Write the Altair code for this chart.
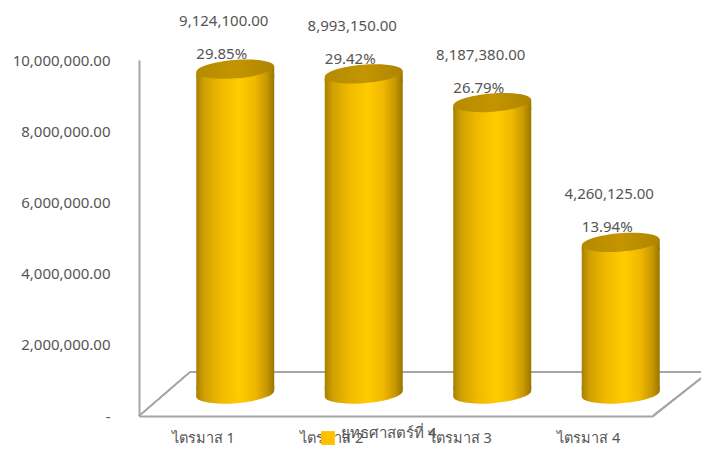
import altair as alt
import pandas as pd

quarters = ["ไตรมาส 1", "ไตรมาส 2", "ไตรมาส 3", "ไตรมาส 4"]
amounts = [9124100, 8993150, 8187380, 4260125]
shares = ["29.85%", "29.42%", "26.79%", "13.94%"]
series = ["ยุทธศาสตร์ที่ 4"] * 4
y_ticks = [0, 2000000, 4000000, 6000000, 8000000, 10000000]

FONT = "Noto Sans"
TXT = "#555555"
GRID = "#a6a6a6"

df = pd.DataFrame({"q": quarters, "v": amounts, "s": shares, "series": series})
df["label"] = df["v"].map(lambda v: f"{v:,.2f}")


def grad(stops):
    return alt.LinearGradient(
        gradient="linear", x1=0, x2=1, y1=0, y2=0,
        stops=[alt.GradientStop(offset=o, color=c) for o, c in stops],
    )


body = grad([(0, "#a88000"), (0.1, "#d0a000"), (0.3, "#f0b800"), (0.55, "#ffcc00"),
             (0.75, "#f0b800"), (0.9, "#c89800"), (1, "#9a7600")])
cap = grad([(0, "#b58a00"), (0.5, "#c49500"), (1, "#ae8500")])

ELLIPSE = "M-1,0A1,0.235,0,1,1,1,0A1,0.235,0,1,1,-1,0Z"
TOP_COLLAR = "M-1,0.077L1,-0.077L1,0.2L-1,0.2Z"
BOT_COLLAR = "M-1,-0.2L1,-0.2L1,-0.077L-1,0.077Z"
SZ = 78 * 78
XO, YO = 32, -22

x = alt.X("q:N", sort=quarters, scale=alt.Scale(paddingInner=0, paddingOuter=0), title=None,
          axis=alt.Axis(labelAngle=0, labelFontSize=14.5, labelFont=FONT, labelColor=TXT,
                        labelPadding=15, ticks=False, domainColor=GRID, domainWidth=2, grid=False))
y = alt.Y("v:Q", scale=alt.Scale(domain=[0, 10000000], nice=False), title=None,
          axis=alt.Axis(values=y_ticks, format=",.2f",
                        labelExpr="datum.value === 0 ? '-\u00a0\u00a0\u00a0' : datum.label",
                        labelFontSize=15, labelFont=FONT, labelColor=TXT, labelPadding=29,
                        ticks=False, domainColor=GRID, domainWidth=2, grid=False))

base = alt.Chart(df)


def pt(path, fill, at_zero=False, angle=0):
    kw = dict(filled=True, shape=path, size=SZ, fill=fill, opacity=1, xOffset=XO, yOffset=YO)
    if angle:
        kw["angle"] = angle
    m = base.mark_point(**kw)
    return m.encode(x=x, y=alt.datum(0) if at_zero else y)


def floor(x1, y1, x2, y2):
    return base.mark_rule(color=GRID, strokeWidth=1.6, clip=False).encode(
        x=alt.value(x1), y=alt.value(y1), x2=alt.value(x2), y2=alt.value(y2))


bars = base.mark_bar(size=78, fill=body, xOffset=XO, yOffset=YO + 5, y2Offset=YO - 5).encode(
    x=x, y=alt.Y("v:Q", scale=alt.Scale(domain=[0, 10000000], nice=False), title=None, stack=None),
    y2=alt.datum(0))

pct = base.mark_text(font=FONT, fontSize=15, color=TXT, dx=18.5, dy=-37).encode(x=x, y=y, text="s:N")
val = base.mark_text(font=FONT, fontSize=15, color=TXT, dx=20.5, dy=-70).encode(x=x, y=y, text="label:N")

legend = base.mark_square(size=0, opacity=1).encode(
    x=x, y=y,
    color=alt.Color("series:N", scale=alt.Scale(range=["#ffc000"]), title=None,
                    legend=alt.Legend(orient="none", legendX=181, legendY=370, symbolType="square",
                                      symbolSize=190, symbolOpacity=1, labelFont=FONT, labelFontSize=15,
                                      labelColor=TXT, labelBaseline="alphabetic", title=None, labelOffset=5)),
)

chart = alt.layer(
    floor(0, 356, 51, 312), floor(51, 312, 570, 312), floor(514, 356, 570, 312),
    pt(ELLIPSE, body, at_zero=True, angle=355.5), pt(BOT_COLLAR, body, at_zero=True),
    bars,
    pt(TOP_COLLAR, body), pt(ELLIPSE, cap, angle=355.5),
    pct, val, legend,
).properties(
    width=514, height=356,
    padding={"left": 131, "top": 52, "right": 48, "bottom": 30},
    autosize=alt.AutoSizeParams(type="none"),
    background="white",
).configure_view(strokeWidth=0)

chart.save("out.html", embed_options={"renderer": "svg", "actions": False})
